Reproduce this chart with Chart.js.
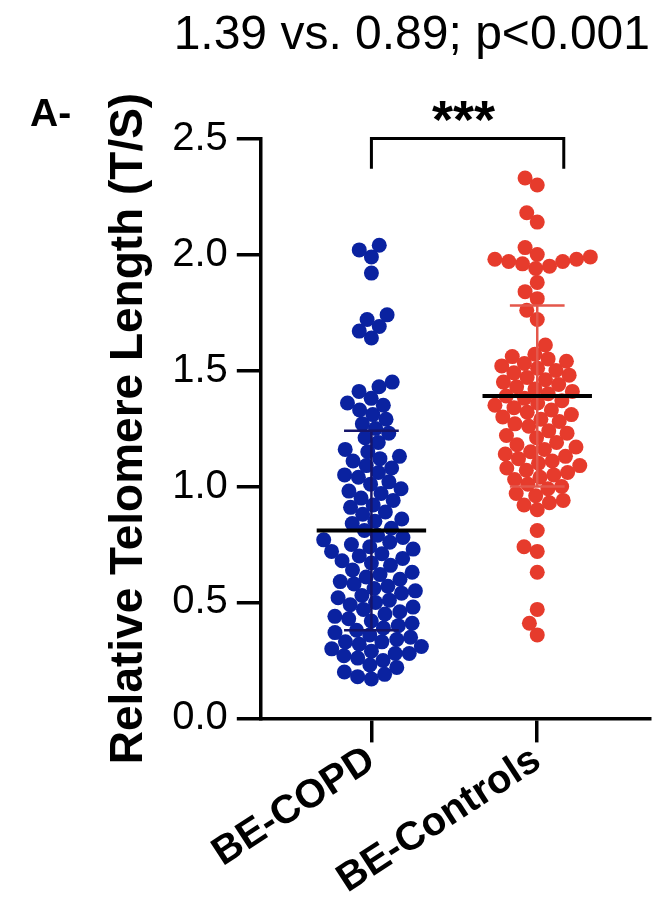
<!DOCTYPE html>
<html>
<head>
<meta charset="utf-8">
<script src="https://cdn.jsdelivr.net/npm/chart.js@4.4.1/dist/chart.umd.min.js"></script>
<style>
  html, body { margin: 0; padding: 0; background: #fff; }
  canvas { display: block; }
</style>
</head>
<body>
<canvas id="chart__telomere" width="664" height="898"></canvas>
<script>
(function () {
    const groups = ['BE-COPD', 'BE-Controls'];
    const copdValues = [
        0.17, 0.18, 0.19, 0.20, 0.22, 0.23, 0.25, 0.26, 0.27, 0.28, 0.28, 0.29, 0.30,
        0.31, 0.32, 0.33, 0.33, 0.34, 0.35, 0.36, 0.37, 0.38, 0.39, 0.40,
        0.41, 0.42, 0.43, 0.44, 0.45, 0.46, 0.47, 0.48, 0.49, 0.50,
        0.51, 0.52, 0.53, 0.54, 0.55, 0.56, 0.57, 0.58, 0.59, 0.60,
        0.61, 0.62, 0.63, 0.64, 0.66, 0.67, 0.68, 0.69, 0.70,
        0.71, 0.72, 0.73, 0.74, 0.75, 0.76, 0.77, 0.78, 0.79,
        0.81, 0.82, 0.84, 0.85, 0.86, 0.88, 0.89,
        0.91, 0.92, 0.94, 0.95, 0.97, 0.98, 0.99,
        1.01, 1.02, 1.04, 1.05, 1.06, 1.08, 1.09,
        1.11, 1.12, 1.13, 1.15, 1.16, 1.19,
        1.21, 1.23, 1.25, 1.27, 1.29,
        1.31, 1.33, 1.35, 1.36, 1.38,
        1.41, 1.43, 1.45,
        1.64, 1.67, 1.69, 1.72, 1.74,
        1.92, 1.99, 2.02, 2.04
    ];
    const controlValues = [
        2.33, 2.30, 2.18, 2.14,
        2.03, 2.00, 1.99, 1.98, 1.98, 1.97, 1.97, 1.96, 1.95, 1.94,
        1.88, 1.84, 1.81, 1.76, 1.72, 1.61,
        1.57, 1.56, 1.55, 1.54, 1.53, 1.52, 1.51, 1.50,
        1.49, 1.48, 1.47, 1.46, 1.45, 1.44, 1.43, 1.42, 1.41, 1.40,
        1.39, 1.38, 1.37, 1.36, 1.35, 1.34, 1.33, 1.32, 1.31, 1.30,
        1.29, 1.28, 1.27, 1.26, 1.24, 1.23, 1.22, 1.21,
        1.19, 1.18, 1.17, 1.16, 1.15, 1.14, 1.13, 1.12, 1.11, 1.10,
        1.09, 1.08, 1.07, 1.06, 1.05, 1.04, 1.03, 1.01, 1.00,
        0.99, 0.97, 0.96, 0.94, 0.93, 0.92, 0.90,
        0.81, 0.74, 0.72, 0.63, 0.47, 0.41, 0.36
    ];
    const groupMeans = [0.81, 1.39];
    const groupSDs = [0.43, 0.39];
    const bracketEnds = [1, 2.16];
    const bracketLow = 2.37;
    const yMax = 2.5;
    const headline = '1.39 vs. 0.89; p<0.001';

    const FONT = "'Liberation Sans', Arial, Helvetica, sans-serif";
    const blue = '#0a22a0';
    const red = '#e63b2c';

    function meanLine(i) {
        const c = i + 1;
        return [{ x: c - 0.33, y: groupMeans[i] }, { x: c + 0.33, y: groupMeans[i] }];
    }

    function sdBar(i) {
        const c = i + 1, lo = groupMeans[i] - groupSDs[i], hi = groupMeans[i] + groupSDs[i];
        return [
            { x: c, y: lo }, { x: c, y: hi }, { x: c, y: null },
            { x: c - 0.165, y: hi }, { x: c + 0.165, y: hi }, { x: c, y: null },
            { x: c - 0.165, y: lo }, { x: c + 0.165, y: lo }
        ];
    }

    // beeswarm: spread points sideways so they do not sit on top of each other
    function swarm(values, center, xs, ys, diam) {
        const x0 = xs.getPixelForValue(center);
        const unit = xs.getPixelForValue(center + 1) - x0;
        const placed = [];
        return [...values].sort((a, b) => a - b).map(v => {
            const py = ys.getPixelForValue(v);
            const blocked = [];
            placed.forEach(p => {
                const dy = Math.abs(p.py - py);
                if (dy < diam) {
                    const w = Math.sqrt(diam * diam - dy * dy);
                    blocked.push([p.dx - w, p.dx + w]);
                }
            });
            const cands = [0];
            blocked.forEach(b => cands.push(b[0], b[1]));
            cands.sort((a, b) => Math.abs(a) - Math.abs(b));
            const dx = cands.find(c => blocked.every(b => c <= b[0] + 1e-6 || c >= b[1] - 1e-6));
            placed.push({ dx: dx, py: py });
            return { x: center + dx / unit, y: v };
        });
    }

    const extras = {
        id: 'extras',
        afterDraw(chart) {
            const { ctx, scales } = chart;
            ctx.save();
            ctx.fillStyle = '#000';
            ctx.textBaseline = 'alphabetic';
            ctx.textAlign = 'left';
            ctx.font = 'bold 39px ' + FONT;
            ctx.fillText('A-', 30, 126);
            ctx.textAlign = 'center';
            ctx.font = 'bold 54px ' + FONT;
            const mid = scales.x.getPixelForValue((bracketEnds[0] + bracketEnds[1]) / 2);
            ctx.fillText('***', mid - 4, scales.y.getPixelForValue(yMax) - 1);
            ctx.restore();
        }
    };

    const axisGrid = {
        display: true,
        drawOnChartArea: false,
        drawTicks: true,
        tickLength: 24,
        color: '#000',
        lineWidth: 3.5
    };

    const chart = new Chart(
        document.getElementById('chart__telomere'),
        {
            type: 'scatter',
            data: {
                datasets: [
                    {
                        type: 'line', data: [
                            { x: bracketEnds[0], y: bracketLow }, { x: bracketEnds[0], y: yMax },
                            { x: bracketEnds[1], y: yMax }, { x: bracketEnds[1], y: bracketLow }
                        ],
                        borderColor: '#000', borderWidth: 3, pointRadius: 0, clip: false, order: 0
                    },
                    { type: 'line', data: meanLine(0), borderColor: '#000', borderWidth: 4, pointRadius: 0, order: 1 },
                    { type: 'line', data: meanLine(1), borderColor: '#000', borderWidth: 4, pointRadius: 0, order: 1 },
                    { type: 'line', data: sdBar(0), borderColor: '#15156b', borderWidth: 2.5, pointRadius: 0, spanGaps: false, order: 1 },
                    { type: 'line', data: sdBar(1), borderColor: '#e4574b', borderWidth: 2.5, pointRadius: 0, spanGaps: false, order: 1 },
                    { label: groups[0], data: copdValues.map(v => ({ x: 1, y: v })), backgroundColor: blue, borderWidth: 0, pointRadius: 7.5, order: 2 },
                    { label: groups[1], data: controlValues.map(v => ({ x: 2, y: v })), backgroundColor: red, borderWidth: 0, pointRadius: 7.5, order: 2 }
                ]
            },
            options: {
                responsive: false,
                animation: false,
                devicePixelRatio: 1,
                layout: { padding: { left: 96, right: 14, top: 0, bottom: 0 } },
                plugins: {
                    legend: { display: false },
                    tooltip: { enabled: false },
                    title: {
                        display: true,
                        text: headline,
                        align: 'end',
                        color: '#000',
                        font: { family: FONT, size: 48, weight: 'normal' },
                        padding: { top: 7, bottom: 74 }
                    }
                },
                scales: {
                    x: {
                        type: 'linear',
                        min: 0.333,
                        max: 2.68,
                        grid: axisGrid,
                        border: { display: true, color: '#000', width: 3.5 },
                        afterBuildTicks: scale => { scale.ticks = [{ value: 1 }, { value: 2 }]; },
                        ticks: {
                            autoSkip: false,
                            minRotation: 33,
                            maxRotation: 33,
                            padding: 0,
                            color: '#000',
                            font: { family: FONT, size: 40, weight: 'bold', lineHeight: 0.85 },
                            callback: v => groups[v - 1]
                        }
                    },
                    y: {
                        min: 0,
                        max: yMax,
                        grid: axisGrid,
                        border: { display: true, color: '#000', width: 3.5 },
                        ticks: {
                            stepSize: 0.5,
                            padding: 9,
                            color: '#000',
                            font: { family: FONT, size: 40 },
                            callback: v => v.toFixed(1)
                        },
                        title: {
                            display: true,
                            text: 'Relative Telomere Length (T/S)',
                            color: '#000',
                            font: { family: FONT, size: 46, weight: 'bold', lineHeight: 1.2 },
                            padding: { top: 6, bottom: 6 }
                        }
                    }
                }
            },
            plugins: [extras]
        }
    );

    chart.data.datasets[5].data = swarm(copdValues, 1, chart.scales.x, chart.scales.y, 14);
    chart.data.datasets[6].data = swarm(controlValues, 2, chart.scales.x, chart.scales.y, 14);
    chart.update('none');
})();
</script>
</body>
</html>
